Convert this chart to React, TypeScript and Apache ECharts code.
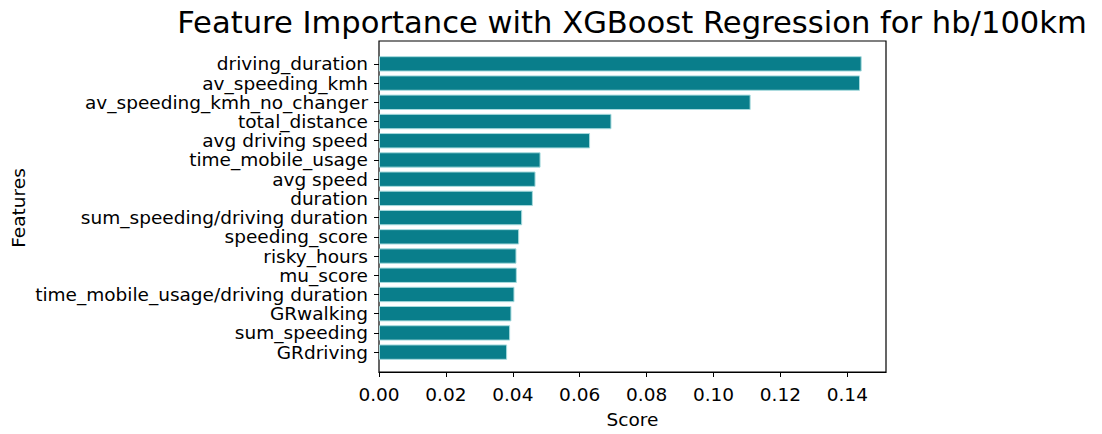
import React, { useEffect, useRef } from 'react';
import * as echarts from 'echarts';

const features = [
  'driving_duration',
  'av_speeding_kmh',
  'av_speeding_kmh_no_changer',
  'total_distance',
  'avg driving speed',
  'time_mobile_usage',
  'avg speed',
  'duration',
  'sum_speeding/driving duration',
  'speeding_score',
  'risky_hours',
  'mu_score',
  'time_mobile_usage/driving duration',
  'GRwalking',
  'sum_speeding',
  'GRdriving',
];
const scores = [
  0.1443, 0.1438, 0.1111, 0.0695, 0.0631, 0.0483, 0.0468, 0.046, 0.0428, 0.0419,
  0.0411, 0.0412, 0.0405, 0.0396, 0.0392, 0.0383,
];
const xTickValues = [0, 0.02, 0.04, 0.06, 0.08, 0.1, 0.12, 0.14];
const xMax = 0.15157;
const titleText = 'Feature Importance with XGBoost Regression for hb/100km';
const xName = 'Score';
const yName = 'Features';

const FONT = 'DejaVu Sans';

export default function App() {
  const ref = useRef<HTMLDivElement>(null);
  useEffect(() => {
    if (!ref.current) return;
    const chart = echarts.init(ref.current, undefined, { renderer: 'svg' });
    const left = 379;
    const top = 41;
    const width = 507;
    const height = 334;
    const n = features.length;
    const unit = height / (n - 1 + 0.8 + 0.1 * (n - 1 + 0.8));
    const pad = 0.05 * (n - 1 + 0.8) * unit - 0.1 * unit;
    chart.setOption({
      animation: false,
      backgroundColor: '#ffffff',
      textStyle: { fontFamily: FONT },
      graphic: [
        {
          type: 'text',
          x: 632,
          y: 22,
          style: {
            text: titleText,
            fontSize: 30.6,
            fontFamily: FONT,
            fill: '#000',
            textAlign: 'center',
            textVerticalAlign: 'middle',
          },
        },
      ],
      grid: [
        { left, top, width, height, show: true, borderColor: '#000', borderWidth: 1.2, backgroundColor: 'transparent', containLabel: false },
        { left, top: top + pad, width, height: height - 2 * pad, containLabel: false },
      ],
      xAxis: [
        {
          gridIndex: 0,
          type: 'value',
          min: 0,
          max: xMax,
          axisLine: { show: true, lineStyle: { color: '#000', width: 1.2 } },
          axisTick: { show: true, length: 5, customValues: xTickValues, lineStyle: { color: '#000' } },
          splitLine: { show: false },
          axisLabel: {
            customValues: xTickValues,
            formatter: (v: number) => v.toFixed(2),
            fontSize: 18.5,
            color: '#000',
            fontFamily: FONT,
            margin: 13,
          },
          name: xName,
          nameLocation: 'middle',
          nameGap: 38,
          nameTextStyle: { fontSize: 18.5, color: '#000', fontFamily: FONT },
        },
        { gridIndex: 1, type: 'value', min: 0, max: xMax, show: false },
      ],
      yAxis: [
        { gridIndex: 0, type: 'value', min: 0, max: 1, show: false },
        {
          gridIndex: 1,
          type: 'category',
          data: features,
          inverse: true,
          axisLine: { show: false },
          axisTick: { show: true, length: 5, alignWithLabel: true, lineStyle: { color: '#000' } },
          axisLabel: { fontSize: 18.5, color: '#000', fontFamily: FONT, margin: 11, interval: 0 },
          name: yName,
          nameLocation: 'middle',
          nameRotate: 90,
          nameGap: 351,
          nameTextStyle: { fontSize: 18.5, color: '#000', fontFamily: FONT },
        },
      ],
      series: [
        {
          type: 'bar',
          xAxisIndex: 1,
          yAxisIndex: 1,
          data: scores,
          barWidth: '80%',
          itemStyle: { color: '#097e8b', borderColor: '#a6dadd', borderWidth: 1 },
        },
      ],
    });
    return () => chart.dispose();
  }, []);
  return (
    <div
      ref={ref}
      style={{ position: 'fixed', left: 0, top: 0, width: 1102, height: 434, background: '#fff' }}
    />
  );
}
